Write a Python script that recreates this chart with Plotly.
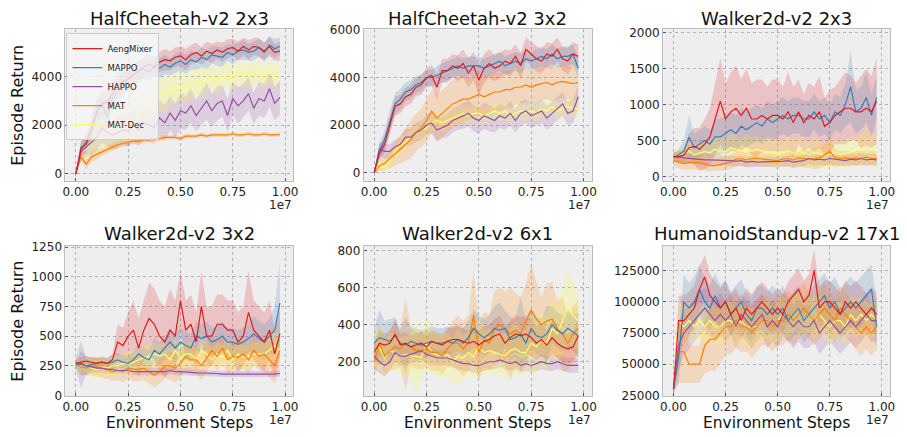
import plotly.graph_objects as go

# ---------------- data ----------------
steps = [i * 250000 for i in range(40)]  # evaluation steps (0 .. 9.75e6)

methods = ["AengMixer", "MAPPO", "HAPPO", "MAT", "MAT-Dec"]
titles = ["HalfCheetah-v2 2x3", "HalfCheetah-v2 3x2", "Walker2d-v2 2x3",
          "Walker2d-v2 3x2", "Walker2d-v2 6x1", "HumanoidStandup-v2 17x1"]

# --- HalfCheetah-v2 2x3 ---
hc23_aeng = [0, 1000, 1300, 1900, 2500, 2900, 2950, 3300, 3600, 3800, 3900, 4100, 4200, 4400, 4500, 4400, 4600, 4700, 4650, 4800,
             4850, 4700, 4900, 5000, 4850, 5050, 4950, 5100, 5000, 5150, 5200, 5050, 5250, 5100, 5250, 5200, 5050, 5250, 5000, 5050]
hc23_mappo = [0, 1100, 1200, 1800, 2600, 2900, 2300, 3100, 3400, 3700, 3900, 4100, 4250, 4300, 4200, 4400, 4350, 4500, 4400, 4550,
              4650, 4500, 4700, 4600, 4800, 4700, 4900, 4850, 4800, 5000, 4900, 5050, 5100, 5000, 5050, 5200, 5000, 5300, 5150, 5250]
hc23_happo = [0, 900, 1100, 1300, 1500, 1900, 1700, 1600, 1700, 1800, 1750, 2000, 1800, 2100, 2000, 1900, 2300, 2100, 2500, 2200,
              2600, 2500, 2800, 2400, 2700, 3000, 2600, 2900, 3000, 2400, 3100, 2800, 3000, 3300, 2700, 3100, 3000, 3500, 2900, 3150]
hc23_mat = [0, 700, 400, 700, 800, 900, 1000, 1100, 1200, 1250, 1300, 1350, 1350, 1400, 1400, 1450, 1450, 1500, 1500, 1500,
            1450, 1550, 1550, 1550, 1600, 1550, 1600, 1600, 1600, 1600, 1650, 1600, 1600, 1650, 1600, 1600, 1650, 1600, 1600, 1620]
hc23_matdec = [0, 900, 1000, 1300, 1500, 1800, 1700, 2000, 1900, 2100, 2200, 2000, 2400, 2600, 2900, 3000, 3200, 3300, 3400, 3500,
               3600, 3500, 3700, 3800, 3700, 3900, 4000, 3800, 4000, 4100, 3900, 4200, 4000, 4100, 4100, 4200, 3900, 4200, 4000, 4250]
hc23_aeng_sd = [0, 300, 400, 450, 500, 500, 550, 500, 500, 450, 450, 450, 400, 400, 450, 400, 400, 450, 400, 400,
                400, 450, 400, 400, 350, 400, 400, 350, 400, 400, 350, 400, 350, 400, 350, 400, 350, 400, 350, 400]
hc23_mappo_sd = [0, 300, 350, 400, 450, 500, 600, 500, 450, 450, 400, 400, 400, 450, 400, 400, 400, 400, 350, 400,
                 400, 400, 400, 350, 400, 400, 350, 400, 400, 350, 400, 350, 400, 350, 400, 350, 400, 350, 400, 350]
hc23_happo_sd = [0, 300, 400, 500, 550, 600, 600, 600, 650, 600, 650, 700, 650, 700, 700, 650, 700, 750, 700, 700,
                 750, 700, 700, 650, 700, 750, 700, 700, 650, 700, 700, 750, 700, 700, 650, 700, 700, 750, 700, 700]
hc23_mat_sd = [0, 200, 200, 200, 200, 150, 150, 150, 150, 120, 120, 120, 120, 120, 100, 100, 100, 100, 100, 100,
               100, 100, 90, 90, 90, 90, 90, 80, 80, 80, 80, 80, 80, 80, 80, 80, 80, 80, 80, 80]
hc23_matdec_sd = [0, 300, 400, 500, 600, 700, 800, 800, 850, 800, 850, 800, 800, 800, 750, 700, 700, 700, 650, 600,
                  600, 600, 600, 550, 600, 500, 500, 550, 500, 500, 500, 500, 450, 500, 500, 450, 500, 500, 450, 500]

# --- HalfCheetah-v2 3x2 ---
hc32_aeng = [0, 800, 1200, 2000, 2800, 2900, 3200, 3300, 3600, 3700, 4000, 4100, 3600, 4300, 4300, 4500, 4400, 4600, 4200, 4500,
             3900, 4400, 4600, 4400, 4500, 4700, 4600, 4900, 4500, 5200, 5000, 4800, 4700, 5000, 4900, 5200, 4800, 4700, 5000, 4900]
hc32_mappo = [0, 900, 1400, 2200, 2900, 3100, 3400, 3500, 3700, 3800, 4000, 4000, 4100, 4200, 4300, 4400, 4500, 4400, 4500, 4500,
              4500, 4400, 4500, 4600, 4700, 4500, 4600, 4700, 4600, 4800, 4700, 4800, 4900, 4800, 5000, 4800, 4900, 4900, 5000, 4400]
hc32_happo = [0, 1000, 900, 900, 1100, 1200, 1500, 1500, 1700, 1800, 2000, 2100, 1800, 1900, 2000, 2200, 2300, 2400, 2500, 2300,
              2200, 2400, 2300, 2200, 2400, 2300, 2500, 2200, 2500, 2600, 2400, 2500, 2600, 2300, 2500, 2700, 2900, 2500, 2600, 3200]
hc32_mat = [0, 300, 400, 600, 800, 1000, 1200, 1400, 1700, 1900, 2200, 2600, 2300, 2500, 2700, 2900, 3000, 3100, 3100, 3200,
            3300, 3200, 3300, 3400, 3400, 3500, 3500, 3600, 3600, 3700, 3600, 3700, 3750, 3800, 3700, 3800, 3850, 3800, 3750, 3800]
hc32_matdec = [0, 400, 200, 500, 900, 1100, 1300, 1500, 1700, 1800, 1900, 2100, 2200, 2100, 2200, 2300, 2400, 2500, 2400, 2500,
               2500, 2400, 2500, 2600, 2500, 2600, 2400, 2500, 2600, 2500, 2600, 2500, 2700, 2600, 2800, 2600, 2700, 2800, 2700, 2700]
hc32_aeng_sd = [0, 300, 400, 400, 400, 400, 400, 400, 400, 400, 400, 450, 500, 500, 500, 500, 550, 600, 600, 600,
                650, 600, 600, 550, 550, 500, 550, 500, 550, 500, 500, 550, 500, 500, 550, 500, 500, 550, 500, 500]
hc32_mappo_sd = [0, 300, 400, 450, 450, 450, 400, 400, 350, 350, 350, 350, 400, 400, 400, 400, 400, 400, 400, 400,
                 400, 400, 400, 400, 400, 400, 400, 400, 400, 400, 400, 400, 400, 400, 400, 400, 400, 400, 400, 450]
hc32_happo_sd = [0, 300, 300, 300, 300, 300, 350, 350, 400, 400, 400, 450, 450, 450, 500, 500, 500, 550, 550, 550,
                 550, 550, 550, 500, 500, 500, 500, 500, 500, 500, 500, 500, 500, 500, 500, 500, 500, 500, 500, 500]
hc32_mat_sd = [0, 200, 300, 400, 500, 600, 700, 800, 800, 800, 900, 900, 1000, 1000, 1000, 1000, 1000, 950, 900, 900,
               900, 850, 850, 800, 800, 800, 800, 750, 750, 700, 700, 700, 700, 700, 700, 700, 700, 700, 700, 700]
hc32_matdec_sd = [0, 200, 200, 250, 300, 300, 300, 300, 300, 350, 350, 350, 350, 350, 350, 350, 350, 350, 350, 350,
                  350, 350, 350, 350, 350, 350, 350, 350, 350, 350, 350, 350, 350, 350, 350, 350, 350, 350, 350, 350]

# --- Walker2d-v2 2x3 ---
w23_aeng = [280, 270, 300, 400, 420, 380, 450, 550, 800, 1050, 800, 900, 950, 850, 950, 800, 800, 850, 800, 850,
            850, 800, 900, 750, 900, 750, 850, 800, 900, 700, 750, 850, 900, 950, 950, 900, 900, 950, 900, 1050]
w23_mappo = [270, 300, 350, 550, 400, 450, 500, 450, 550, 550, 600, 650, 600, 700, 650, 700, 750, 700, 800, 750,
             800, 850, 800, 850, 850, 800, 800, 900, 800, 850, 750, 900, 850, 1000, 1250, 900, 950, 1100, 850, 1100]
w23_happo = [270, 280, 260, 250, 250, 240, 230, 230, 230, 220, 220, 220, 210, 220, 200, 210, 200, 200, 210, 200,
             200, 210, 220, 200, 210, 220, 250, 230, 240, 230, 250, 240, 230, 220, 240, 230, 250, 230, 240, 230]
w23_mat = [220, 200, 180, 200, 190, 200, 180, 150, 150, 170, 180, 200, 240, 250, 230, 250, 250, 240, 230, 230,
           220, 240, 250, 230, 260, 250, 240, 250, 260, 300, 350, 260, 250, 260, 250, 260, 250, 270, 250, 250]
w23_matdec = [280, 300, 320, 350, 300, 320, 350, 330, 380, 350, 350, 400, 380, 350, 400, 350, 380, 350, 330, 350,
              300, 330, 360, 320, 350, 330, 300, 330, 320, 280, 300, 330, 300, 320, 330, 350, 380, 420, 380, 350]
w23_aeng_sd = [50, 80, 100, 200, 250, 300, 350, 400, 500, 600, 500, 550, 600, 500, 550, 500, 550, 500, 450, 500,
               500, 450, 550, 500, 450, 400, 450, 450, 500, 400, 450, 400, 450, 500, 450, 400, 500, 550, 500, 600]
w23_mappo_sd = [60, 80, 150, 300, 200, 200, 200, 200, 250, 250, 250, 250, 250, 250, 250, 250, 250, 250, 250, 250,
                250, 250, 250, 250, 250, 250, 250, 250, 250, 250, 250, 250, 250, 300, 500, 300, 300, 350, 300, 300]
w23_happo_sd = [60, 70, 80, 80, 80, 80, 80, 80, 70, 70, 70, 70, 70, 70, 70, 70, 70, 70, 70, 70,
                70, 70, 80, 80, 80, 80, 80, 80, 80, 80, 80, 80, 80, 80, 80, 80, 80, 80, 80, 80]
w23_mat_sd = [80, 90, 90, 100, 100, 100, 90, 80, 80, 90, 90, 100, 100, 100, 100, 100, 100, 100, 100, 100,
              100, 100, 100, 100, 100, 120, 120, 150, 150, 150, 200, 120, 100, 100, 100, 100, 100, 100, 100, 100]
w23_matdec_sd = [60, 80, 100, 150, 120, 150, 150, 150, 200, 180, 180, 200, 200, 180, 200, 180, 200, 180, 180, 200,
                 180, 180, 200, 180, 200, 180, 180, 200, 180, 180, 200, 200, 180, 200, 200, 200, 220, 250, 230, 220]

# --- Walker2d-v2 3x2 ---
w32_aeng = [270, 280, 290, 280, 270, 280, 270, 300, 450, 420, 500, 550, 400, 550, 650, 600, 500, 450, 550, 500,
            800, 550, 600, 450, 750, 500, 500, 600, 600, 550, 550, 450, 500, 700, 550, 500, 450, 550, 350, 520]
w32_mappo = [260, 270, 250, 260, 270, 280, 270, 280, 300, 280, 270, 300, 350, 320, 300, 380, 350, 400, 450, 400,
             450, 420, 400, 500, 480, 500, 450, 470, 500, 450, 450, 430, 450, 480, 520, 480, 450, 500, 550, 780]
w32_happo = [270, 260, 250, 240, 230, 230, 220, 220, 210, 210, 210, 200, 200, 200, 200, 200, 200, 200, 210, 200,
             200, 200, 195, 190, 190, 190, 185, 185, 180, 180, 180, 180, 180, 180, 180, 180, 175, 180, 180, 185]
w32_mat = [270, 240, 230, 250, 240, 230, 220, 200, 210, 200, 230, 220, 220, 230, 200, 170, 200, 250, 250, 230,
           270, 330, 300, 300, 250, 320, 380, 330, 400, 300, 330, 320, 350, 300, 380, 330, 350, 300, 250, 380]
w32_matdec = [270, 250, 260, 230, 220, 240, 230, 250, 250, 270, 270, 280, 300, 320, 330, 350, 330, 350, 300, 380,
              320, 350, 350, 300, 380, 350, 300, 350, 320, 380, 300, 350, 320, 330, 350, 350, 350, 380, 420, 380]
w32_aeng_sd = [30, 40, 40, 40, 40, 40, 40, 50, 150, 150, 200, 250, 250, 250, 300, 300, 300, 300, 350, 300,
               250, 250, 250, 250, 300, 250, 250, 250, 250, 250, 250, 250, 250, 350, 250, 250, 250, 250, 200, 200]
w32_mappo_sd = [30, 100, 80, 60, 50, 50, 50, 60, 60, 60, 60, 70, 80, 80, 80, 100, 100, 100, 120, 120,
                120, 120, 120, 120, 120, 120, 120, 120, 120, 120, 120, 120, 120, 120, 150, 150, 150, 150, 200, 350]
w32_happo_sd = [40, 200, 60, 50, 40, 40, 35, 35, 30, 30, 30, 30, 30, 30, 30, 30, 30, 30, 30, 30,
                30, 30, 30, 30, 25, 25, 25, 25, 25, 25, 25, 25, 25, 25, 25, 25, 25, 25, 25, 25]
w32_mat_sd = [40, 60, 60, 80, 80, 80, 80, 80, 80, 90, 90, 100, 100, 100, 100, 100, 100, 100, 120, 120,
              120, 120, 120, 120, 120, 120, 120, 120, 120, 120, 120, 120, 120, 120, 120, 120, 150, 150, 150, 150]
w32_matdec_sd = [40, 60, 60, 80, 80, 80, 80, 80, 80, 90, 100, 100, 100, 100, 100, 100, 100, 100, 100, 100,
                 100, 100, 100, 100, 100, 100, 100, 100, 100, 100, 100, 100, 100, 100, 100, 100, 100, 120, 120, 120]

# --- Walker2d-v2 6x1 ---
w61_aeng = [250, 300, 290, 300, 350, 290, 300, 280, 290, 300, 280, 310, 300, 290, 310, 320, 320, 310, 300, 310,
            290, 310, 320, 340, 350, 300, 330, 350, 340, 350, 330, 300, 320, 290, 330, 300, 280, 270, 280, 340]
w61_mappo = [300, 330, 320, 310, 340, 300, 290, 310, 300, 290, 300, 310, 300, 300, 310, 300, 320, 300, 330, 380,
             350, 330, 350, 380, 370, 380, 320, 330, 350, 300, 380, 340, 330, 350, 400, 370, 350, 380, 360, 340]
w61_happo = [230, 200, 180, 200, 250, 230, 230, 240, 250, 260, 240, 230, 220, 220, 220, 210, 200, 190, 190, 180,
             180, 190, 200, 200, 210, 200, 190, 200, 180, 190, 180, 190, 200, 190, 190, 200, 190, 180, 180, 180]
w61_mat = [200, 300, 230, 260, 280, 270, 300, 280, 260, 260, 270, 250, 250, 230, 270, 300, 300, 270, 300, 450,
           250, 320, 300, 380, 400, 380, 350, 370, 350, 420, 480, 430, 400, 420, 430, 380, 350, 300, 350, 380]
w61_matdec = [250, 280, 220, 260, 250, 230, 240, 230, 230, 220, 300, 250, 240, 230, 240, 200, 230, 220, 250, 230,
              280, 250, 260, 250, 240, 230, 260, 270, 250, 250, 300, 280, 320, 300, 380, 350, 420, 500, 450, 420]
w61_aeng_sd = [60, 70, 60, 70, 80, 60, 60, 60, 60, 60, 60, 60, 60, 60, 70, 70, 70, 70, 70, 80,
               80, 80, 80, 90, 100, 90, 90, 100, 100, 100, 100, 90, 90, 80, 90, 80, 80, 80, 80, 90]
w61_mappo_sd = [80, 150, 100, 120, 100, 80, 150, 80, 80, 80, 80, 80, 80, 80, 80, 80, 80, 80, 90, 100,
                100, 100, 100, 120, 150, 100, 120, 100, 200, 120, 100, 100, 100, 150, 100, 100, 100, 100, 100, 120]
w61_happo_sd = [70, 60, 60, 50, 50, 50, 50, 50, 50, 50, 50, 50, 40, 40, 40, 40, 40, 40, 40, 40,
                40, 40, 40, 40, 40, 40, 40, 40, 40, 40, 40, 40, 40, 40, 40, 40, 40, 40, 40, 40]
w61_mat_sd = [80, 100, 100, 100, 120, 100, 250, 100, 100, 100, 100, 100, 100, 100, 100, 120, 150, 150, 150, 250,
              150, 150, 150, 200, 200, 200, 250, 200, 200, 200, 250, 200, 150, 200, 200, 150, 200, 150, 150, 150]
w61_matdec_sd = [80, 120, 100, 100, 100, 100, 100, 120, 200, 120, 150, 120, 120, 120, 120, 120, 150, 120, 120, 120,
                 150, 120, 120, 120, 120, 120, 120, 150, 120, 120, 150, 150, 150, 150, 150, 150, 180, 200, 180, 150]

# --- HumanoidStandup-v2 17x1 ---
hs_aeng = [30000, 85000, 85000, 90000, 95000, 110000, 120000, 105000, 100000, 95000, 100000, 90000, 95000, 85000, 95000, 90000, 95000, 100000, 95000, 90000,
           95000, 90000, 100000, 105000, 110000, 100000, 105000, 125000, 95000, 100000, 100000, 95000, 90000, 100000, 95000, 100000, 95000, 90000, 95000, 90000]
hs_mappo = [30000, 55000, 100000, 95000, 100000, 110000, 100000, 95000, 105000, 95000, 100000, 90000, 95000, 100000, 90000, 85000, 95000, 95000, 90000, 95000,
            90000, 95000, 85000, 90000, 95000, 85000, 90000, 95000, 100000, 105000, 95000, 100000, 90000, 95000, 100000, 95000, 100000, 105000, 110000, 80000]
hs_happo = [30000, 65000, 75000, 80000, 85000, 90000, 95000, 90000, 85000, 90000, 85000, 90000, 80000, 90000, 85000, 80000, 85000, 90000, 80000, 85000,
            80000, 90000, 85000, 80000, 85000, 80000, 80000, 85000, 75000, 80000, 85000, 80000, 75000, 80000, 85000, 80000, 85000, 90000, 85000, 85000]
hs_mat = [30000, 60000, 60000, 50000, 50000, 50000, 65000, 70000, 70000, 75000, 80000, 80000, 85000, 80000, 80000, 75000, 80000, 85000, 85000, 80000,
          85000, 85000, 90000, 85000, 90000, 95000, 90000, 85000, 90000, 95000, 90000, 85000, 95000, 90000, 85000, 80000, 75000, 80000, 75000, 80000]
hs_matdec = [30000, 85000, 80000, 85000, 80000, 85000, 80000, 85000, 80000, 80000, 85000, 85000, 80000, 85000, 80000, 80000, 80000, 85000, 85000, 80000,
             85000, 90000, 85000, 90000, 95000, 85000, 90000, 85000, 90000, 85000, 80000, 85000, 85000, 80000, 90000, 85000, 90000, 85000, 90000, 85000]
hs_aeng_sd = [3000, 20000, 20000, 18000, 18000, 18000, 18000, 18000, 16000, 16000, 16000, 16000, 16000, 16000, 16000, 16000, 16000, 16000, 16000, 16000,
              16000, 16000, 16000, 16000, 17000, 17000, 17000, 17000, 17000, 17000, 17000, 17000, 17000, 17000, 17000, 17000, 17000, 17000, 17000, 17000]
hs_mappo_sd = [3000, 20000, 22000, 20000, 20000, 20000, 18000, 18000, 18000, 18000, 18000, 18000, 18000, 18000, 18000, 18000, 18000, 18000, 18000, 18000,
               18000, 18000, 18000, 18000, 18000, 18000, 18000, 18000, 18000, 18000, 20000, 20000, 20000, 20000, 20000, 20000, 20000, 20000, 20000, 20000]
hs_happo_sd = [3000, 20000, 18000, 18000, 17000, 17000, 17000, 17000, 17000, 17000, 17000, 17000, 17000, 17000, 17000, 17000, 17000, 17000, 17000, 17000,
               17000, 17000, 17000, 17000, 17000, 17000, 17000, 17000, 17000, 17000, 17000, 17000, 17000, 17000, 17000, 17000, 17000, 17000, 17000, 17000]
hs_mat_sd = [3000, 25000, 25000, 15000, 15000, 15000, 22000, 25000, 25000, 25000, 22000, 22000, 22000, 20000, 20000, 20000, 20000, 20000, 20000, 20000,
             20000, 20000, 20000, 20000, 20000, 20000, 20000, 20000, 20000, 20000, 18000, 18000, 18000, 18000, 18000, 18000, 18000, 18000, 18000, 18000]
hs_matdec_sd = [3000, 15000, 15000, 15000, 15000, 15000, 15000, 15000, 15000, 15000, 15000, 15000, 15000, 15000, 15000, 15000, 15000, 15000, 15000, 15000,
                15000, 15000, 15000, 15000, 15000, 15000, 15000, 15000, 15000, 15000, 15000, 15000, 15000, 15000, 15000, 15000, 15000, 15000, 15000, 15000]

panel_means = [
    [hc23_aeng, hc23_mappo, hc23_happo, hc23_mat, hc23_matdec],
    [hc32_aeng, hc32_mappo, hc32_happo, hc32_mat, hc32_matdec],
    [w23_aeng, w23_mappo, w23_happo, w23_mat, w23_matdec],
    [w32_aeng, w32_mappo, w32_happo, w32_mat, w32_matdec],
    [w61_aeng, w61_mappo, w61_happo, w61_mat, w61_matdec],
    [hs_aeng, hs_mappo, hs_happo, hs_mat, hs_matdec],
]
panel_sds = [
    [hc23_aeng_sd, hc23_mappo_sd, hc23_happo_sd, hc23_mat_sd, hc23_matdec_sd],
    [hc32_aeng_sd, hc32_mappo_sd, hc32_happo_sd, hc32_mat_sd, hc32_matdec_sd],
    [w23_aeng_sd, w23_mappo_sd, w23_happo_sd, w23_mat_sd, w23_matdec_sd],
    [w32_aeng_sd, w32_mappo_sd, w32_happo_sd, w32_mat_sd, w32_matdec_sd],
    [w61_aeng_sd, w61_mappo_sd, w61_happo_sd, w61_mat_sd, w61_matdec_sd],
    [hs_aeng_sd, hs_mappo_sd, hs_happo_sd, hs_mat_sd, hs_matdec_sd],
]

x_tickvals = [0, 2.5e6, 5e6, 7.5e6, 1e7]
x_ticktext = ["0.00", "0.25", "0.50", "0.75", "1.00"]
y_ranges = [[-280, 5950], [-330, 6040], [-58, 2049], [-5, 1262], [15, 826], [24500, 145000]]
y_ticks = [[0, 2000, 4000], [0, 2000, 4000, 6000], [0, 500, 1000, 1500, 2000],
           [0, 250, 500, 750, 1000, 1250], [200, 400, 600, 800],
           [25000, 50000, 75000, 100000, 125000]]

# ---------------- style / layout ----------------
W, H = 907, 437
rgb = [(228, 26, 28), (55, 126, 184), (152, 78, 163), (255, 127, 0), (255, 255, 51)]
line_rgb = [(228, 26, 28), (55, 126, 184), (152, 78, 163), (255, 127, 0), (255, 255, 110)]
col_px = [(63, 293), (364, 594), (666, 895)]
row_px = [(24, 180), (247, 402)]
x_range = [-0.495e6, 10.395e6]
FONT = "DejaVu Sans"

fig = go.Figure()
layout = dict(width=W, height=H, margin=dict(l=0, r=0, t=0, b=0),
              paper_bgcolor="white", plot_bgcolor="#eeeeee",
              font=dict(family=FONT, color="#222222"), annotations=[])

for p in range(6):
    r, c = divmod(p, 3)
    k = "" if p == 0 else str(p + 1)
    xa, ya = "x" + k, "y" + k
    x0, x1 = col_px[c]
    y0, y1 = row_px[r]
    common = dict(showline=True, mirror=True, linecolor="#bcbcbc", linewidth=1,
                  showgrid=True, gridcolor="#b2b2b2", griddash="dot", gridwidth=0.8,
                  zeroline=False, ticks="inside", ticklen=3, tickcolor="#555555",
                  tickfont=dict(size=12, family=FONT, color="#222222"))
    layout["xaxis" + k] = dict(domain=[x0 / W, x1 / W], anchor=ya, range=x_range,
                               tickvals=x_tickvals, ticktext=x_ticktext, **common)
    layout["yaxis" + k] = dict(domain=[1 - y1 / H, 1 - y0 / H], anchor=xa,
                               range=y_ranges[p], tickvals=y_ticks[p],
                               ticktext=[str(v) for v in y_ticks[p]], **common)
    # bands (mean +/- spread)
    for m in range(5):
        mu, sd = panel_means[p][m], panel_sds[p][m]
        up = [a + b for a, b in zip(mu, sd)]
        lo = [a - b for a, b in zip(mu, sd)]
        R, G, B = rgb[m]
        fig.add_trace(go.Scatter(x=steps + steps[::-1], y=up + lo[::-1], fill="toself",
                                 fillcolor=f"rgba({R},{G},{B},0.2)", line=dict(width=0),
                                 hoverinfo="skip", showlegend=False, xaxis=xa, yaxis=ya))
    # mean lines
    for m in [4, 3, 2, 1, 0]:
        R, G, B = line_rgb[m]
        fig.add_trace(go.Scatter(x=steps, y=panel_means[p][m], mode="lines",
                                 line=dict(color=f"rgb({R},{G},{B})", width=1.2),
                                 name=methods[m], showlegend=(p == 0), legendrank=m + 1,
                                 xaxis=xa, yaxis=ya))
    # subplot title
    layout["annotations"].append(dict(text=titles[p], xref="paper", yref="paper",
                                      x=(x0 + x1) / 2 / W, y=1 - (13 if r == 0 else 234) / H,
                                      xanchor="center", yanchor="middle", showarrow=False,
                                      font=dict(size=18, family=FONT, color="#111111")))
    # offset text
    layout["annotations"].append(dict(text="1e7", xref="paper", yref="paper",
                                      x=x1 / W, y=1 - (y1 + (25 if r == 0 else 25)) / H,
                                      xanchor="right", yanchor="middle", showarrow=False,
                                      borderpad=0,
                                      font=dict(size=12, family=FONT, color="#222222")))
    if c == 0:
        layout["annotations"].append(dict(text="Episode Return", xref="paper", yref="paper",
                                          x=15 / W, y=1 - (y0 + y1) / 2 / H, textangle=-90,
                                          xanchor="center", yanchor="middle", showarrow=False,
                                          font=dict(size=16, family=FONT, color="#111111")))
    if r == 1:
        layout["annotations"].append(dict(text="Environment Steps", xref="paper", yref="paper",
                                          x=(x0 + x1) / 2 / W, y=1 - 429.5 / H,
                                          xanchor="center", yanchor="middle", showarrow=False,
                                          borderpad=0,
                                          font=dict(size=15.5, family=FONT, color="#111111")))

layout["legend"] = dict(x=64 / W, y=1 - 28 / H, xanchor="left", yanchor="top",
                        bgcolor="rgba(245,245,245,0.8)", bordercolor="#cccccc", borderwidth=1,
                        font=dict(size=8.5, family=FONT, color="#222222"),
                        tracegroupgap=0, itemwidth=30)
layout["showlegend"] = True
fig.update_layout(**layout)
fig.write_html("out.html")
